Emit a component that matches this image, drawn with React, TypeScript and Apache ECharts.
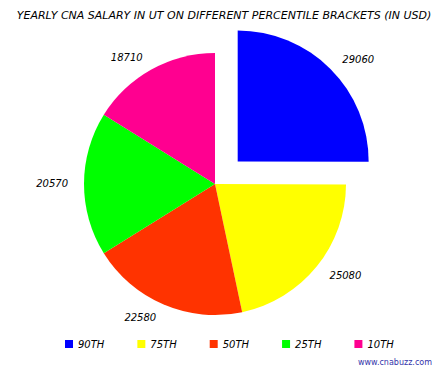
import React, { useEffect, useRef } from "react";
import * as echarts from "echarts";

const titleText = "YEARLY CNA SALARY IN UT ON DIFFERENT PERCENTILE BRACKETS (IN USD)";
const categories = ["90TH", "75TH", "50TH", "25TH", "10TH"];
const values = [29060, 25080, 22580, 20570, 18710];
const colors = ["#0000FF", "#FFFF00", "#FF3300", "#00FF00", "#FF0090"];
const watermark = "www.cnabuzz.com";

export default function App() {
  const ref = useRef<HTMLDivElement>(null);
  useEffect(() => {
    if (!ref.current) return;
    const chart = echarts.init(ref.current, null, { renderer: "svg" });
    const font = "'DejaVu Sans', sans-serif";
    chart.setOption({
      animation: false,
      backgroundColor: "#ffffff",
      title: {
        text: titleText,
        left: "center",
        top: 5,
        textStyle: { fontFamily: font, fontSize: 11, fontWeight: "normal", fontStyle: "italic", color: "#000" },
      },
      legend: {
        data: categories,
        orient: "horizontal",
        left: 65,
        top: 339,
        padding: 0,
        icon: "rect",
        itemWidth: 8,
        itemHeight: 8,
        itemGap: 33,
        textStyle: { fontFamily: font, fontSize: 10, fontStyle: "italic", color: "#000" },
      },
      graphic: [
        {
          type: "text",
          right: 16,
          top: 358,
          style: { text: watermark, fontFamily: font, fontSize: 8, fill: "#3333AA" },
        },
      ],
      series: [
        {
          type: "pie",
          center: [215, 184],
          radius: 131,
          startAngle: 90,
          clockwise: true,
          avoidLabelOverlap: false,
          selectedMode: "single",
          selectedOffset: 32,
          emphasis: { disabled: true },
          label: {
            show: true,
            position: "outside",
            formatter: "{c}",
            fontFamily: font,
            fontSize: 10,
            fontStyle: "italic",
            color: "#000",
            distanceToLabelLine: 2,
          },
          labelLine: { show: false, length: 14, length2: 0 },
          data: categories.map((c, i) => ({
            name: c,
            value: values[i],
            selected: i === 0,
            itemStyle: { color: colors[i] },
          })),
        },
      ],
    });
    return () => chart.dispose();
  }, []);
  return <div ref={ref} style={{ position: "absolute", left: 0, top: 0, width: 448, height: 374 }} />;
}
